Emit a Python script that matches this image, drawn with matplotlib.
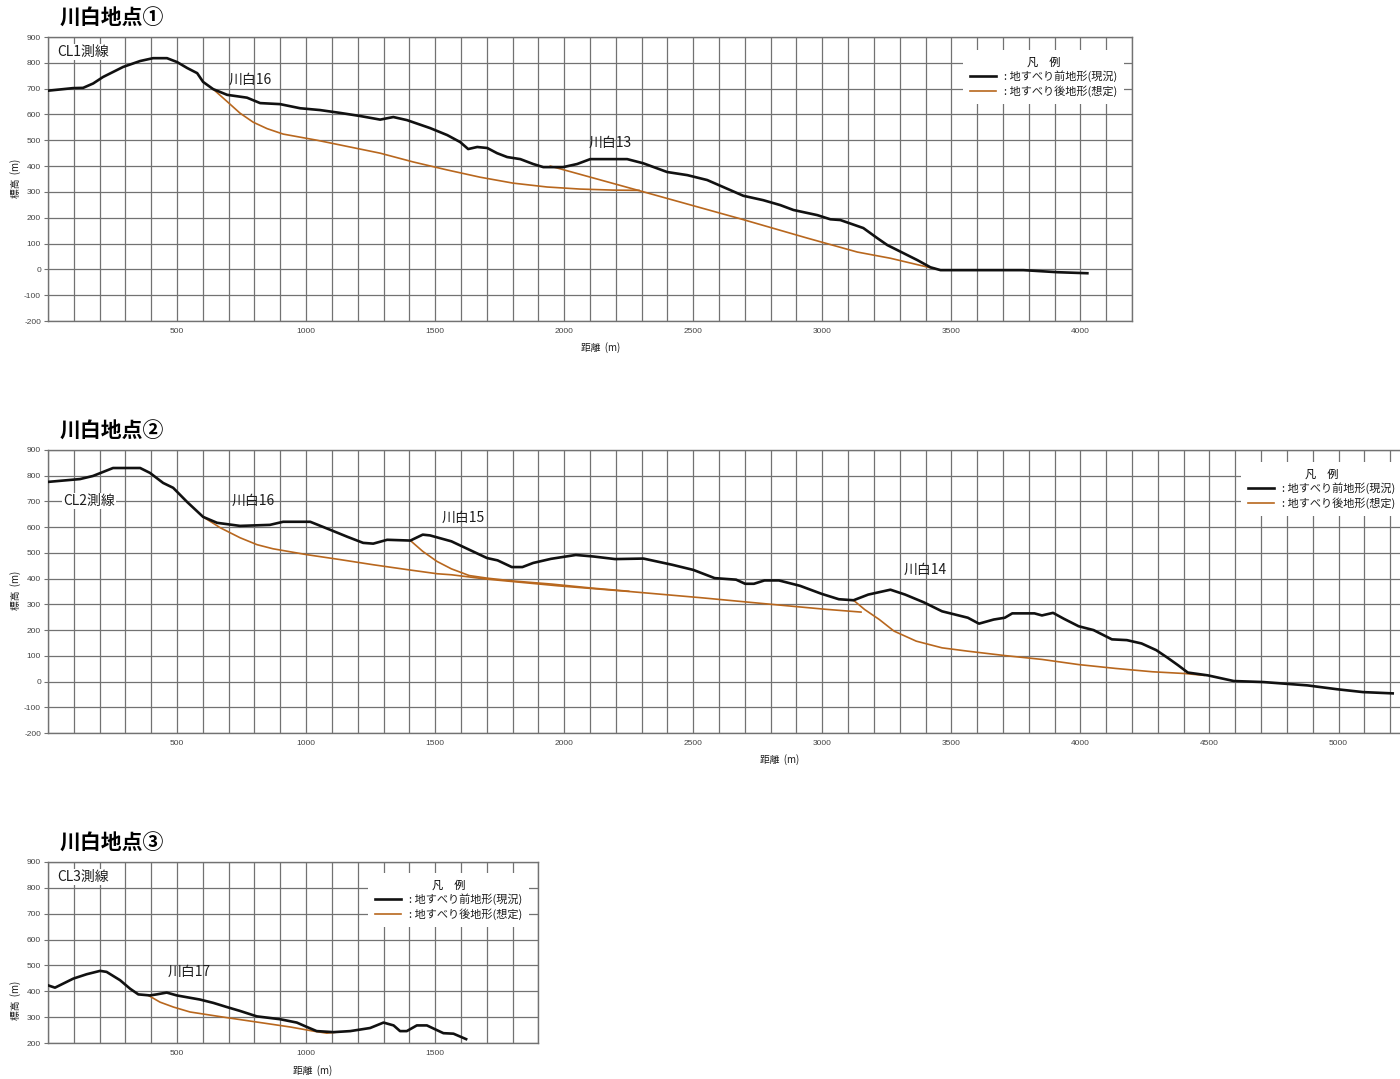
import matplotlib
matplotlib.use("Agg")
import matplotlib.pyplot as plt
from matplotlib.ticker import MultipleLocator, FuncFormatter

plt.rcParams["font.family"] = ["Noto Sans CJK JP", "DejaVu Sans"]

# CL1 profile: present ground surface and assumed post-slide surfaces (m)
cl1_dist = [0, 97, 136, 175, 213, 291, 357, 407, 461, 500, 539, 578, 601, 640, 694,
            771, 822, 899, 977, 1054, 1132, 1209, 1287, 1338, 1391, 1481, 1547, 1597,
            1628, 1663, 1702, 1740, 1779, 1830, 1880, 1919, 1996, 2050, 2101, 2244,
            2306, 2399, 2477, 2554, 2616, 2694, 2771, 2837, 2888, 2981, 3031, 3070,
            3159, 3213, 3252, 3314, 3368, 3419, 3458, 3585, 3779, 3911, 4027]
cl1_elev = [692, 702, 703, 720, 745, 784, 807, 818, 818, 803, 780, 760, 726, 698, 676,
            665, 644, 640, 624, 617, 606, 594, 580, 590, 578, 547, 520, 493,
            466, 474, 470, 450, 435, 427, 408, 396, 396, 408, 427, 427,
            411, 377, 365, 346, 319, 285, 268, 249, 230, 210, 194, 191,
            160, 121, 94, 63, 36, 8, -3, -3, -3, -11, -15]
cl1_s16_dist = [640, 694, 744, 795, 849, 911, 1043, 1287, 1415, 1547, 1674, 1802, 1934,
                2062, 2190, 2290]
cl1_s16_elev = [698, 650, 605, 570, 545, 524, 500, 450, 416, 385, 357, 334, 319,
                311, 307, 306]
cl1_s13_dist = [1946, 2283, 2682, 2942, 3136, 3264, 3407, 3440]
cl1_s13_elev = [400, 307, 196, 121, 67, 43, 9, 2]

# CL2 profile
cl2_dist = [0, 124, 174, 252, 357, 395, 446, 485, 539, 601, 655, 744, 860, 911, 1016,
            1093, 1159, 1221, 1260, 1314, 1404, 1452, 1480, 1563, 1701, 1742, 1797,
            1838, 1880, 1949, 2045, 2114, 2197, 2307, 2418, 2500, 2583, 2666, 2701,
            2735, 2776, 2832, 2914, 2997, 3064, 3121, 3178, 3264, 3321, 3393, 3464,
            3564, 3607, 3664, 3707, 3736, 3822, 3851, 3894, 3936, 3993, 4051, 4122,
            4180, 4237, 4294, 4337, 4379, 4416, 4494, 4594, 4709, 4880, 4995, 5095, 5210]
cl2_elev = [776, 787, 799, 830, 830, 811, 772, 753, 698, 640, 617, 605, 609, 621, 621,
            590, 563, 539, 536, 551, 548, 571, 568, 545, 480, 471, 445,
            445, 461, 477, 492, 486, 476, 478, 454, 434, 402, 396, 380,
            380, 393, 393, 372, 341, 320, 316, 338, 357, 338, 308, 273,
            248, 225, 241, 248, 265, 265, 257, 267, 244, 215, 200, 164,
            161, 148, 122, 93, 63, 35, 24, 2, -2, -15, -30, -41, -46]
cl2_s16_dist = [601, 667, 744, 810, 872, 1004, 1132, 1260, 1392, 1508, 1563, 1701, 1977,
                2252, 2528, 2804, 3011, 3150]
cl2_s16_elev = [640, 598, 559, 532, 516, 493, 474, 454, 435, 419, 415, 398, 372,
                350, 326, 300, 281, 270]
cl2_s15_dist = [1404, 1452, 1507, 1563, 1632, 1701, 1800, 1950, 2100, 2250]
cl2_s15_elev = [548, 506, 467, 438, 412, 402, 391, 379, 364, 351]
cl2_s14_dist = [3121, 3164, 3221, 3278, 3364, 3464, 3564, 3707, 3851, 3993, 4136, 4279,
                4407, 4479]
cl2_s14_elev = [316, 280, 241, 196, 157, 131, 118, 101, 86, 66, 51, 38, 31, 24]

# CL3 profile
cl3_dist = [0, 27, 98, 150, 202, 227, 279, 318, 350, 395, 421, 460, 499, 589, 641, 693,
            744, 809, 899, 964, 1003, 1041, 1106, 1171, 1248, 1300, 1339, 1364, 1390,
            1429, 1468, 1532, 1571, 1620]
cl3_elev = [423, 414, 449, 466, 479, 475, 443, 410, 388, 384, 388, 395, 384, 368, 355, 339,
            324, 303, 292, 279, 262, 246, 242, 246, 258, 279, 268, 246, 246,
            268, 268, 238, 236, 215]
cl3_s17_dist = [389, 434, 486, 550, 680, 809, 938, 1028, 1080, 1119]
cl3_s17_elev = [384, 358, 339, 320, 300, 281, 262, 246, 238, 242]

legend_labels = [": 地すべり前地形(現況)", ": 地すべり後地形(想定)"]

W, H = 1400, 1079
PX_PER_M = 25.81 / 100
GRID = "#727272"
BLACK = "#111111"
ORANGE = "#b8671e"
TEXT = "#1e1e1e"


def add_panel(fig, top, bottom, xmax, ymin, ymax):
    left = 48
    right = left + xmax * PX_PER_M
    ax = fig.add_axes([left / W, 1 - bottom / H, (right - left) / W, (bottom - top) / H])
    ax.set_xlim(0, xmax)
    ax.set_ylim(ymin, ymax)
    ax.xaxis.set_major_locator(MultipleLocator(100))
    ax.yaxis.set_major_locator(MultipleLocator(100))
    ax.xaxis.set_major_formatter(
        FuncFormatter(lambda v, p: f"{v:.0f}" if v > 0 and round(v) % 500 == 0 else ""))
    ax.yaxis.set_major_formatter(FuncFormatter(lambda v, p: f"{v:.0f}"))
    ax.grid(True, color=GRID, lw=0.9)
    ax.set_axisbelow(True)
    for s in ax.spines.values():
        s.set_color(GRID)
        s.set_linewidth(1.0)
    ax.tick_params(axis="x", length=0, pad=5, labelsize=6, labelcolor="#444444")
    ax.tick_params(axis="y", length=3, width=0.8, color=GRID, pad=2,
                   labelsize=6, labelcolor="#444444")
    for lab in ax.get_xticklabels() + ax.get_yticklabels():
        lab.set_family("Liberation Sans")
    return ax, left, right


def add_key(ax, handles, anchor):
    leg = ax.legend(handles, legend_labels, title="凡　例", loc="upper left",
                    bbox_to_anchor=anchor, borderaxespad=0, fontsize=8, title_fontsize=8,
                    handlelength=2.4, handletextpad=0.7, borderpad=0.6,
                    labelspacing=0.3, fancybox=False, frameon=True)
    frame = leg.get_frame()
    frame.set_facecolor("white")
    frame.set_edgecolor("none")
    frame.set_alpha(1)
    for t in leg.get_texts():
        t.set_color(TEXT)
    return leg


def draw_profile(ax, dist, elev, slips):
    for sd, se in slips:
        ax.plot(sd, se, color=ORANGE, lw=1.2, zorder=3)
    (ground,) = ax.plot(dist, elev, color=BLACK, lw=1.9, zorder=4)
    return ground


def fig_label(fig, x, y, s, **kw):
    fig.text(x / W, 1 - y / H, s, **kw)


fig = plt.figure(figsize=(14, 10.79), dpi=100)
slip_line = plt.Line2D([], [], color=ORANGE, lw=1.2)
label_style = dict(fontsize=10, color=TEXT, va="center")
boxed = dict(facecolor="white", edgecolor="none", pad=1)

# 川白地点①
ax1, l1, r1 = add_panel(fig, 37, 321, 4200, -200, 900)
g1 = draw_profile(ax1, cl1_dist, cl1_elev,
                  [(cl1_s16_dist, cl1_s16_elev), (cl1_s13_dist, cl1_s13_elev)])
ax1.text(35, 842, "CL1測線", bbox=boxed, **label_style)
ax1.text(698, 733, "川白16", **label_style)
ax1.text(2093, 489, "川白13", **label_style)
add_key(ax1, [g1, slip_line], ((963 - l1) / (r1 - l1), (321 - 50) / 284))

# 川白地点②
ax2, l2, r2 = add_panel(fig, 450, 733, 5400, -200, 900)
g2 = draw_profile(ax2, cl2_dist, cl2_elev,
                  [(cl2_s16_dist, cl2_s16_elev), (cl2_s15_dist, cl2_s15_elev),
                   (cl2_s14_dist, cl2_s14_elev)])
ax2.text(58, 702, "CL2測線", bbox=boxed, **label_style)
ax2.text(713, 702, "川白16", **label_style)
ax2.text(1527, 636, "川白15", **label_style)
ax2.text(3314, 434, "川白14", **label_style)
add_key(ax2, [g2, slip_line], ((1241 - l2) / (r2 - l2), (733 - 462) / 283))

# 川白地点③
ax3, l3, r3 = add_panel(fig, 862, 1043, 1900, 200, 900)
g3 = draw_profile(ax3, cl3_dist, cl3_elev, [(cl3_s17_dist, cl3_s17_elev)])
ax3.text(35, 842, "CL3測線", bbox=boxed, **label_style)
ax3.text(465, 474, "川白17", **label_style)
add_key(ax3, [g3, slip_line], ((368 - l3) / (r3 - l3), (1043 - 873) / 181))

# titles and axis captions
for y, title in [(18, "川白地点①"), (431, "川白地点②"), (843, "川白地点③")]:
    fig_label(fig, 60, y, title, fontsize=15, fontweight="bold", va="center", ha="left")
for x, y in [(601, 348), (780, 760), (313, 1071)]:
    fig_label(fig, x, y, "距離  (m)", fontsize=7, color=TEXT, va="center", ha="center")
for y in [178, 590, 1000]:
    fig_label(fig, 16, y, "標高  (m)", fontsize=7, color=TEXT, va="center", ha="center",
              rotation=90)

fig.savefig("out.png", dpi=100)
